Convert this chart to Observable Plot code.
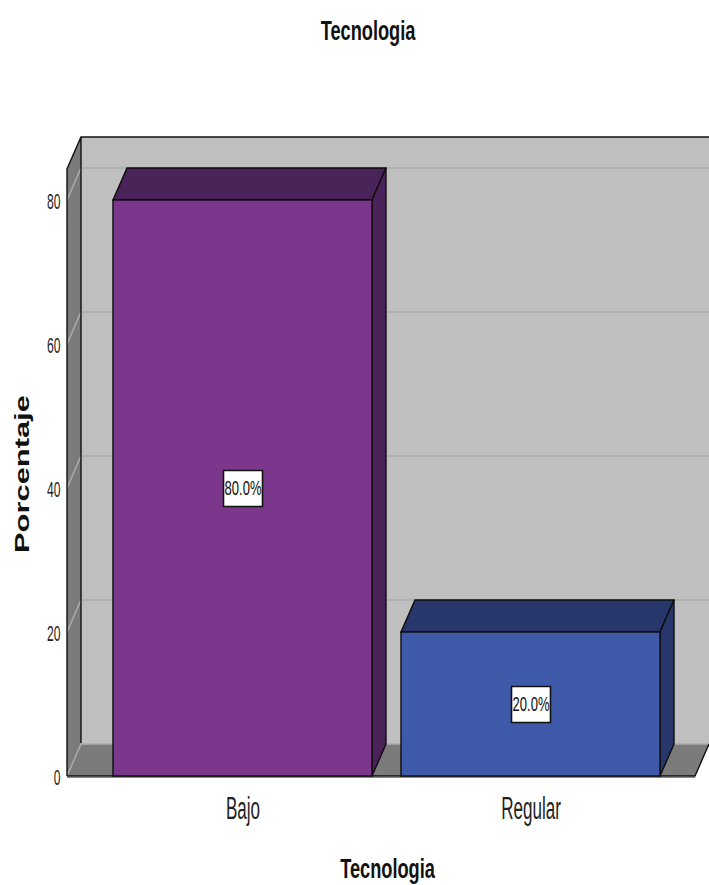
<!DOCTYPE html>
<html>
<head>
<meta charset="utf-8">
<style>
  html, body { margin: 0; padding: 0; background: #fff; }
  #title { position: relative; height: 60px; width: 709px; overflow: hidden; }
  #title span {
    position: absolute; left: 368px; top: 14px; font: bold 28px/34px "Liberation Sans", Arial, sans-serif;
    color: #111; white-space: nowrap; transform: translateX(-50%) scaleX(0.65);
  }
  svg { display: block; }
</style>
<script src="https://cdn.jsdelivr.net/npm/d3@7"></script>
<script src="https://cdn.jsdelivr.net/npm/@observablehq/plot@0.6"></script>
</head>
<body>
<div id="title"><span>Tecnologia</span></div>
<div id="chart"></div>
<script>
const xTitle = "Tecnologia";
const yTitle = "Porcentaje";
const categories = ["Bajo", "Regular"];
const percents = [80, 20];
const valueLabels = ["80.0%", "20.0%"];
const yTicks = [0, 20, 40, 60, 80];
const yMax = 84.3;

const frontColors = ["#7a378b", "#3f5aa8"];
const shadeColors = ["#4a2358", "#27376b"];
const depthX = 14, depthY = -32;

const rows = categories.map((c, i) => ({cat: c, value: percents[i], label: valueLabels[i]}));
const shade = new Map(categories.map((c, i) => [c, shadeColors[i]]));

const poly = pts => "M" + pts.map(p => p.join(",")).join("L") + "Z";

// the box walls, floor and grid, placed from the y scale and the frame
function walls(index, {y}, values, {width, marginLeft, marginRight}) {
  const g = d3.create("svg:g");
  const x0 = marginLeft - 32, x1 = width - marginRight + 20;
  const yB = y(0), yT = y(yMax);
  const dx = depthX, dy = depthY;
  g.append("path").attr("d", poly([[x0 + dx, yT + dy], [x1 + dx, yT + dy], [x1 + dx, yB + dy], [x0 + dx, yB + dy]])).attr("fill", "#bfbfbf");
  g.append("path").attr("d", poly([[x0, yB], [x0 + dx, yB + dy], [x1 + dx, yB + dy], [x1, yB]])).attr("fill", "#7b7b7b");
  g.append("path").attr("d", poly([[x0, yB], [x0 + dx, yB + dy], [x0 + dx, yT + dy], [x0, yT]])).attr("fill", "#7b7b7b");
  for (const t of yTicks) {
    g.append("path").attr("d", `M${x0},${y(t)}L${x0 + dx},${y(t) + dy}L${x1 + dx},${y(t) + dy}`)
      .attr("fill", "none").attr("stroke", "#adadad").attr("stroke-width", 1.5);
  }
  g.append("path").attr("d", `M${x0},${yB}V${yT}L${x0 + dx},${yT + dy}H${x1 + dx}M${x0 + dx},${yT + dy}V${yB + dy - 1}`)
    .attr("fill", "none").attr("stroke", "#111").attr("stroke-width", 1.4);
  g.append("path").attr("d", `M${x0},${yB + 1.5}H${x1}`).attr("stroke", "#888").attr("stroke-width", 1);
  g.append("path").attr("d", `M${x0},${yB}H${x1}L${x1 + dx},${yB + dy}`).attr("fill", "none").attr("stroke", "#111").attr("stroke-width", 1.4);
  return g.node();
}

// top and side faces of every bar, from the same scales as the front face
function barDepth(index, {x, y}) {
  const g = d3.create("svg:g");
  const bw = typeof x.bandwidth === "function" ? x.bandwidth() : x.bandwidth;
  for (const r of rows) {
    const xa = x(r.cat), xb = xa + bw, yt = y(r.value), yb = y(0);
    g.append("path").attr("d", poly([[xa, yt], [xa + depthX, yt + depthY], [xb + depthX, yt + depthY], [xb, yt]]))
      .attr("fill", shade.get(r.cat)).attr("stroke", "#0d0d0d").attr("stroke-width", 1.4);
    g.append("path").attr("d", poly([[xb, yt], [xb + depthX, yt + depthY], [xb + depthX, yb + depthY], [xb, yb]]))
      .attr("fill", shade.get(r.cat)).attr("stroke", "#0d0d0d").attr("stroke-width", 1.4);
  }
  return g.node();
}

const boxSymbol = {draw(ctx) { ctx.rect(-19.5, -18, 39, 36); }};
const font = '"Liberation Sans", Arial, sans-serif';

const svg = Plot.plot({
  width: 709,
  height: 825,
  marginTop: 109,
  marginBottom: 109,
  marginLeft: 99,
  marginRight: 34,
  style: {fontFamily: font, background: "#fff", color: "#222"},
  x: {domain: categories, paddingInner: 0.1, paddingOuter: 0.05, label: null},
  y: {domain: [0, yMax], label: null},
  color: {domain: categories, range: frontColors},
  marks: [
    walls,
    barDepth,
    Plot.barY(rows, {x: "cat", y: "value", fill: "cat", stroke: "#0d0d0d", strokeWidth: 1.4}),
    Plot.dot(rows, {x: "cat", y: d => d.value / 2, symbol: boxSymbol, fill: "#fff", stroke: "#111", strokeWidth: 1.6, r: 10}),
    Plot.text(rows, {x: "cat", y: d => d.value / 2, text: "label", fontSize: 21, fill: "#111"}),
    Plot.axisY({ticks: yTicks, tickSize: 0, tickPadding: 39, fontSize: 22, label: null, tickFormat: d3.format("d"), dy: 1}),
    Plot.axisX({tickSize: 0, tickPadding: 20, fontSize: 31, label: null}),
    Plot.text([yTitle], {frameAnchor: "left", rotate: -90, dx: -77, dy: 80, fontSize: 21, fontWeight: "bold", fill: "#111"}),
    Plot.text([xTitle], {frameAnchor: "bottom", dy: 101, fontSize: 28, fontWeight: "bold", fill: "#111"})
  ]
});
document.getElementById("chart").append(svg);

// the reference is stretched: narrow or widen each text along its reading direction
const ratios = new Map([
  ...valueLabels.map(s => [s, 0.62]),
  ...yTicks.map(t => [String(t), 0.55]),
  ...categories.map(s => [s, 0.55]),
  [yTitle, 1.47],
  [xTitle, 0.65]
]);
for (const t of svg.querySelectorAll("text")) {
  const ratio = ratios.get(t.textContent);
  if (!ratio) continue;
  const span = t.querySelector("tspan");
  if (span) {
    const content = span.textContent, yShift = span.getAttribute("y");
    t.textContent = content;
    if (yShift) t.setAttribute("dy", yShift);
  }
  t.setAttribute("lengthAdjust", "spacingAndGlyphs");
  t.setAttribute("textLength", t.getComputedTextLength() * ratio);
}
</script>
</body>
</html>
